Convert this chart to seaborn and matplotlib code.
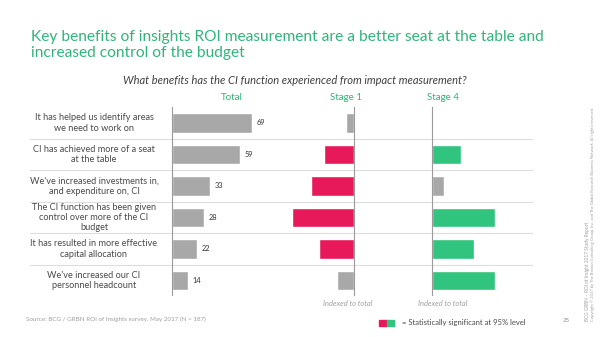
import matplotlib
matplotlib.use("Agg")
import matplotlib.pyplot as plt
import seaborn as sns
import pandas as pd

# ---------------- data ----------------
categories = [
    "It has helped us identify areas\nwe need to work on",
    "CI has achieved more of a seat\nat the table",
    "We've increased investments in,\nand expenditure on, CI",
    "The CI function has been given\ncontrol over more of the CI\nbudget",
    "It has resulted in more effective\ncapital allocation",
    "We've increased our CI\npersonnel headcount",
]
total = [69, 59, 33, 28, 22, 14]
# indexed to total (relative bar lengths)
stage1 = [8, 30, 43, 62, 35, 17]
stage1_sig = [False, True, True, True, True, False]
stage4 = [1, 29, 12, 63, 42, 63]
stage4_sig = [False, True, False, True, True, True]

title = ("Key benefits of insights ROI measurement are a better seat at the table and\n"
         "increased control of the budget")
subtitle = "What benefits has the CI function experienced from impact measurement?"
headers = ["Total", "Stage 1", "Stage 4"]
index_note = "Indexed to total"
source = "Source: BCG / GRBN ROI of Insights survey, May 2017 (N = 187)"
legend_text = "= Statistically significant at 95% level"
page = "25"
copyright1 = "BCG GRBN \u2013 ROI of Insight 2017 Study Report"
copyright2 = ("Copyright \u00a9 2017 by The Boston Consulting Group, Inc. and The Global "
              "Research Business Network. All rights reserved.")

# ---------------- style ----------------
sns.set_style("white")
plt.rcParams["font.family"] = ["Lato", "DejaVu Sans"]

GREY = "#a8a8a8"
PINK = "#e8195a"
GREEN = "#30c47e"
TITLE_GREEN = "#2fb57a"
TEXT = "#4a4a4a"
LINE = "#9a9a9a"
SEP = "#dddddd"

W, H = 600, 337
fig = plt.figure(figsize=(W / 100, H / 100), dpi=100)


def fx(px):
    return px / W


def fy(py):
    return 1 - py / H


AX_TOP, AX_BOT = 107, 295
ROW0, ROWSTEP = 123, 31.5
ylim = ((AX_BOT - ROW0) / ROWSTEP, (AX_TOP - ROW0) / ROWSTEP)


def make_ax(left, right, zorder=1):
    ax = fig.add_axes([fx(left), fy(AX_BOT), fx(right - left), (AX_BOT - AX_TOP) / H],
                      zorder=zorder)
    ax.patch.set_alpha(0)
    return ax


n = len(categories)

# background separators
bg = make_ax(30, 533, zorder=0)
bg.set_xlim(0, 1)
bg.set_ylim(*ylim)
for i in range(n - 1):
    bg.axhline(i + 0.5, color=SEP, lw=0.8)
bg.axis("off")

df = pd.DataFrame({"cat": categories, "total": total,
                   "stage1": [-v for v in stage1], "stage4": stage4})

BAR_W = 0.63


def style_ax(ax, spine):
    ax.set_ylim(*ylim)
    ax.set_xticks([])
    ax.set_yticks([])
    ax.set_xlabel("")
    ax.set_ylabel("")
    for s in ax.spines.values():
        s.set_visible(False)
    ax.spines[spine].set_visible(True)
    ax.spines[spine].set_color(LINE)
    ax.spines[spine].set_linewidth(0.8)


# Total
ax_t = make_ax(172, 272, zorder=2)
sns.barplot(data=df, x="total", y="cat", hue="cat", palette=[GREY] * n,
            legend=False, width=BAR_W, orient="h", ax=ax_t, saturation=1)
ax_t.set_xlim(0, 100 / 1.159)
style_ax(ax_t, "left")
for i, v in enumerate(total):
    ax_t.text(v + 4, i, str(v), va="center", ha="left", fontsize=5.3, color="#333333")

# Stage 1
ax_1 = make_ax(280, 354, zorder=2)
c1 = [PINK if s else GREY for s in stage1_sig]
sns.barplot(data=df, x="stage1", y="cat", hue="cat", palette=c1,
            legend=False, width=BAR_W, orient="h", ax=ax_1, saturation=1)
ax_1.set_xlim(-74, 0)
style_ax(ax_1, "right")

# Stage 4
ax_4 = make_ax(432, 510, zorder=2)
c4 = [GREEN if s else GREY for s in stage4_sig]
sns.barplot(data=df, x="stage4", y="cat", hue="cat", palette=c4,
            legend=False, width=BAR_W, orient="h", ax=ax_4, saturation=1)
ax_4.set_xlim(0, 78)
style_ax(ax_4, "left")

# category labels
lab_tr = matplotlib.transforms.blended_transform_factory(fig.transFigure, ax_t.transData)
for i, c in enumerate(categories):
    fig.text(fx(94), i, c, transform=lab_tr, ha="center", va="center",
             fontsize=6.6, color=TEXT, linespacing=1.2)

# title / subtitle / headers
fig.text(fx(31), fy(30), title, ha="left", va="top", fontsize=11.2,
         color=TITLE_GREEN, linespacing=1.15)
fig.text(fx(295), fy(80), subtitle, ha="center", va="center", fontsize=8.0,
         style="italic", color="#404040")
for h, x in zip(headers, [232, 346, 443]):
    fig.text(fx(x), fy(97), h, ha="center", va="center", fontsize=7, color=TITLE_GREEN)
for x in [348, 443]:
    fig.text(fx(x), fy(303), index_note, ha="center", va="center", fontsize=5.4,
             style="italic", color="#a0a0a0")

# footer
fig.text(fx(26), fy(319), source, ha="left", va="center", fontsize=4.5, color="#a0a0a0")
fig.patches.append(matplotlib.patches.Rectangle((fx(379), fy(326)), fx(7.5), 6 / H,
                                                transform=fig.transFigure, color=PINK))
fig.patches.append(matplotlib.patches.Rectangle((fx(386.5), fy(326)), fx(7.5), 6 / H,
                                                transform=fig.transFigure, color=GREEN))
fig.text(fx(402), fy(323), legend_text, ha="left", va="center", fontsize=5.5, color=TEXT)
fig.text(fx(566), fy(320), page, ha="center", va="center", fontsize=4.3, color="#909090")
fig.text(fx(587.5), fy(321), copyright1, ha="center", va="bottom", rotation=90,
         fontsize=3.4, color="#a0a0a0")
fig.text(fx(593), fy(321), copyright2, ha="center", va="bottom", rotation=90,
         fontsize=3.0, color="#a0a0a0")

fig.savefig("out.png", dpi=100)
